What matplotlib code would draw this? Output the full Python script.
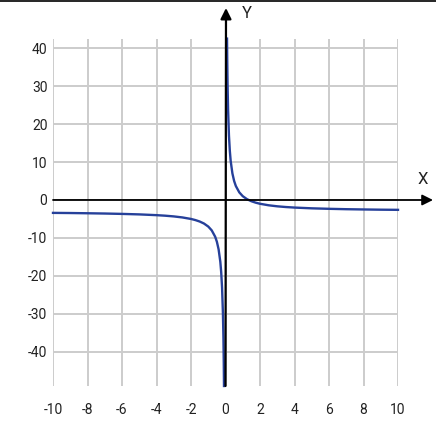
import matplotlib
matplotlib.use("Agg")
import matplotlib.pyplot as plt
from matplotlib.lines import Line2D

plt.rcParams['font.family'] = ['Roboto', 'DejaVu Sans']
plt.rcParams['axes.unicode_minus'] = False

# puntos (rama izquierda y rama derecha)
x_izq = [-10, -9, -8, -7, -6, -5, -4, -3.5, -3, -2.5, -2, -1.75, -1.5, -1.25,
         -1, -0.8, -0.6, -0.5, -0.4, -0.3, -0.25, -0.2, -0.15, -0.12, -0.1, -0.087]
y_izq = [-3.4, -3.44, -3.5, -3.57, -3.67, -3.8, -4.0, -4.14, -4.33, -4.6, -5.0,
         -5.29, -5.67, -6.2, -7.0, -8.0, -9.67, -11.0, -13.0, -16.3, -19.0, -23.0,
         -29.7, -36.3, -43.0, -49.0]

x_der = [0.088, 0.1, 0.12, 0.15, 0.2, 0.25, 0.3, 0.4, 0.5, 0.6, 0.8, 1, 1.25, 1.5,
         1.75, 2, 2.5, 3, 3.5, 4, 5, 6, 7, 8, 9, 10]
y_der = [42.5, 37.0, 30.3, 23.7, 17.0, 13.0, 10.3, 7.0, 5.0, 3.67, 2.0, 1.0, 0.2,
         -0.33, -0.71, -1.0, -1.4, -1.67, -1.86, -2.0, -2.2, -2.33, -2.43, -2.5,
         -2.56, -2.6]

xticks = list(range(-10, 11, 2))
yticks = [-40, -30, -20, -10, 0, 10, 20, 30, 40]

W, H = 436, 443
fig = plt.figure(figsize=(W / 100, H / 100), dpi=100)
ax = fig.add_axes([53 / W, (H - 386) / H, 345 / W, 347 / H])
ax.set_xlim(-10, 10)
ax.set_ylim(-49, 42.4)

ax.set_xticks(xticks)
ax.set_yticks(yticks)
ax.grid(color='#cccccc', lw=1.4)
ax.tick_params(length=0, labelsize=10, labelcolor='#222222')
ax.tick_params(axis='x', pad=12)
ax.tick_params(axis='y', pad=4)
for s in ax.spines.values():
    s.set_visible(False)

ax.plot(x_izq, y_izq, color='#26409a', lw=1.7, clip_on=False, zorder=3)
ax.plot(x_der, y_der, color='#26409a', lw=1.7, clip_on=False, zorder=3)

# ejes con flechas
ax.annotate('', xy=(433 / W, 1 - 200 / H), xycoords='figure fraction',
            xytext=(-10, 0), textcoords='data',
            arrowprops=dict(arrowstyle='-|>', color='black', lw=1.3,
                            mutation_scale=16, shrinkA=0, shrinkB=0))
ax.annotate('', xy=(226 / W, 1 - 8 / H), xycoords='figure fraction',
            xytext=(0, -49), textcoords='data',
            arrowprops=dict(arrowstyle='-|>', color='black', lw=1.6,
                            mutation_scale=16, shrinkA=0, shrinkB=0))
fig.text(423 / W, 1 - 180 / H, 'X', fontsize=12, color='#222222',
         ha='center', va='center')
fig.text(247 / W, 1 - 13 / H, 'Y', fontsize=12, color='#222222',
         ha='center', va='center')

# linea del borde superior
fig.add_artist(Line2D([0, 1], [1 - 0.5 / H, 1 - 0.5 / H], color='black', lw=1.2))

fig.savefig('out.png', dpi=100)
